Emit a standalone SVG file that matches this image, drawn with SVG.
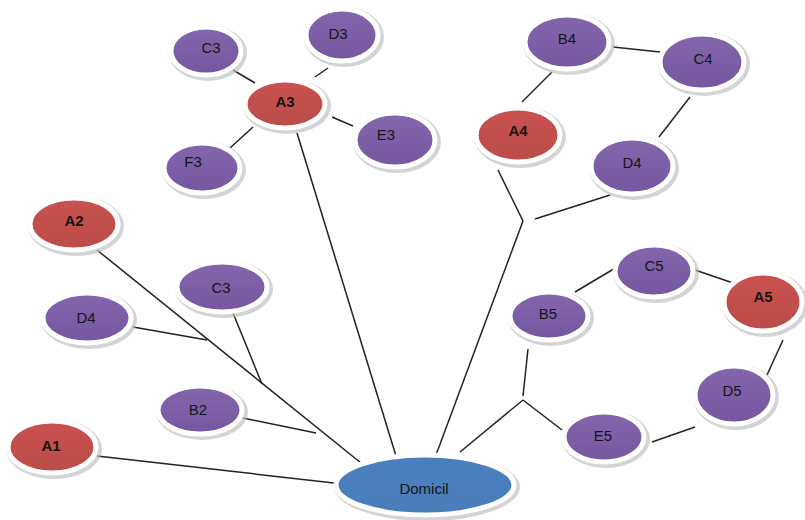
<svg xmlns="http://www.w3.org/2000/svg" width="805" height="520" viewBox="0 0 805 520">
<defs>
<linearGradient id="gp" x1="0" y1="0" x2="0" y2="1"><stop offset="0" stop-color="#8466ad"/><stop offset="1" stop-color="#7557a0"/></linearGradient>
<linearGradient id="gr" x1="0" y1="0" x2="0" y2="1"><stop offset="0" stop-color="#c9524f"/><stop offset="1" stop-color="#bb4c48"/></linearGradient>
<linearGradient id="gb" x1="0" y1="0" x2="0" y2="1"><stop offset="0" stop-color="#4a7fbf"/><stop offset="1" stop-color="#4c7dba"/></linearGradient>
</defs>
<style>
.sh{fill:#bdbdc2;opacity:0.65}
.p{fill:url(#gp);stroke:#fff;stroke-width:5}
.r{fill:url(#gr);stroke:#fff;stroke-width:5}
.b{fill:url(#gb);stroke:#fff;stroke-width:5}
text{font-family:"Liberation Sans",Arial,sans-serif;font-size:15px;fill:#161616;text-anchor:middle;dominant-baseline:central}
.bold{font-weight:bold}
#connectors line{stroke:#222;stroke-width:1.5;fill:none}
</style>
<rect width="805" height="520" fill="#fff"/>
<g id="connectors">
<line x1="233" y1="70" x2="255" y2="83"/>
<line x1="315" y1="77" x2="328" y2="68"/>
<line x1="332" y1="117" x2="353" y2="126"/>
<line x1="253" y1="127" x2="230" y2="148"/>
<line x1="297" y1="133" x2="396" y2="456"/>
<line x1="613" y1="47" x2="660" y2="52"/>
<line x1="552" y1="72" x2="522" y2="102"/>
<line x1="690" y1="97" x2="659" y2="137"/>
<line x1="498" y1="170" x2="523" y2="221"/>
<line x1="523" y1="221" x2="436" y2="455"/>
<line x1="535" y1="219" x2="610" y2="195"/>
<line x1="97" y1="250" x2="361" y2="463"/>
<line x1="133" y1="327" x2="207" y2="340"/>
<line x1="233" y1="313" x2="262" y2="384"/>
<line x1="243" y1="418" x2="316" y2="433"/>
<line x1="97" y1="456" x2="334" y2="483"/>
<line x1="528" y1="349" x2="523" y2="396"/>
<line x1="460" y1="452" x2="523" y2="400"/>
<line x1="523" y1="400" x2="562" y2="430"/>
<line x1="575" y1="292" x2="617" y2="267"/>
<line x1="695" y1="270" x2="733" y2="283"/>
<line x1="783" y1="340" x2="767" y2="375"/>
<line x1="695" y1="427" x2="652" y2="442"/>
</g>
<g id="C3a"><ellipse class="sh" cx="208" cy="53" rx="39" ry="28"/><ellipse class="p" cx="206" cy="51" rx="35" ry="24"/><text x="211" y="47">C3</text></g>
<g id="D3"><ellipse class="sh" cx="344" cy="37" rx="40" ry="30"/><ellipse class="p" cx="342" cy="35" rx="36" ry="26"/><text x="338" y="33">D3</text></g>
<g id="A3"><ellipse class="sh" cx="287" cy="106" rx="44" ry="28"/><ellipse class="r" cx="285" cy="104" rx="40" ry="24"/><text class="bold" x="285" y="101">A3</text></g>
<g id="E3"><ellipse class="sh" cx="397" cy="142" rx="44" ry="31"/><ellipse class="p" cx="395" cy="140" rx="40" ry="27"/><text x="386" y="134">E3</text></g>
<g id="F3"><ellipse class="sh" cx="204" cy="170" rx="42" ry="29"/><ellipse class="p" cx="202" cy="168" rx="38" ry="25"/><text x="193" y="161">F3</text></g>
<g id="B4"><ellipse class="sh" cx="569" cy="44" rx="46" ry="31"/><ellipse class="p" cx="567" cy="42" rx="42" ry="27"/><text x="567" y="38">B4</text></g>
<g id="C4"><ellipse class="sh" cx="704" cy="64" rx="46" ry="32"/><ellipse class="p" cx="702" cy="62" rx="42" ry="28"/><text x="703" y="58">C4</text></g>
<g id="A4"><ellipse class="sh" cx="520" cy="137" rx="46" ry="31"/><ellipse class="r" cx="518" cy="135" rx="42" ry="27"/><text class="bold" x="518" y="130">A4</text></g>
<g id="D4a"><ellipse class="sh" cx="634" cy="168" rx="45" ry="32"/><ellipse class="p" cx="632" cy="166" rx="41" ry="28"/><text x="632" y="162">D4</text></g>
<g id="A2"><ellipse class="sh" cx="76" cy="226" rx="48" ry="30"/><ellipse class="r" cx="74" cy="224" rx="44" ry="26"/><text class="bold" x="74" y="220">A2</text></g>
<g id="C3b"><ellipse class="sh" cx="224" cy="289" rx="49" ry="29"/><ellipse class="p" cx="222" cy="287" rx="45" ry="25"/><text x="221" y="287">C3</text></g>
<g id="D4b"><ellipse class="sh" cx="89" cy="320" rx="48" ry="29"/><ellipse class="p" cx="87" cy="318" rx="44" ry="25"/><text x="86" y="317">D4</text></g>
<g id="B2"><ellipse class="sh" cx="202" cy="412" rx="46" ry="28"/><ellipse class="p" cx="200" cy="410" rx="42" ry="24"/><text x="198" y="409">B2</text></g>
<g id="A1"><ellipse class="sh" cx="54" cy="449" rx="48" ry="30"/><ellipse class="r" cx="52" cy="447" rx="44" ry="26"/><text class="bold" x="51" y="445">A1</text></g>
<g id="Domicil"><ellipse class="sh" cx="427" cy="487" rx="93" ry="34"/><ellipse class="b" cx="425" cy="485" rx="89" ry="30"/><text x="424" y="488">Domicil</text></g>
<g id="C5"><ellipse class="sh" cx="656" cy="273" rx="43" ry="30"/><ellipse class="p" cx="654" cy="271" rx="39" ry="26"/><text x="654" y="265">C5</text></g>
<g id="A5"><ellipse class="sh" cx="765" cy="304" rx="43" ry="33"/><ellipse class="r" cx="763" cy="302" rx="39" ry="29"/><text class="bold" x="763" y="296">A5</text></g>
<g id="B5"><ellipse class="sh" cx="551" cy="318" rx="43" ry="28"/><ellipse class="p" cx="549" cy="316" rx="39" ry="24"/><text x="548" y="313">B5</text></g>
<g id="D5"><ellipse class="sh" cx="736" cy="397" rx="43" ry="33"/><ellipse class="p" cx="734" cy="395" rx="39" ry="29"/><text x="732" y="390">D5</text></g>
<g id="E5"><ellipse class="sh" cx="606" cy="439" rx="44" ry="29"/><ellipse class="p" cx="604" cy="437" rx="40" ry="25"/><text x="603" y="435">E5</text></g>
</svg>
